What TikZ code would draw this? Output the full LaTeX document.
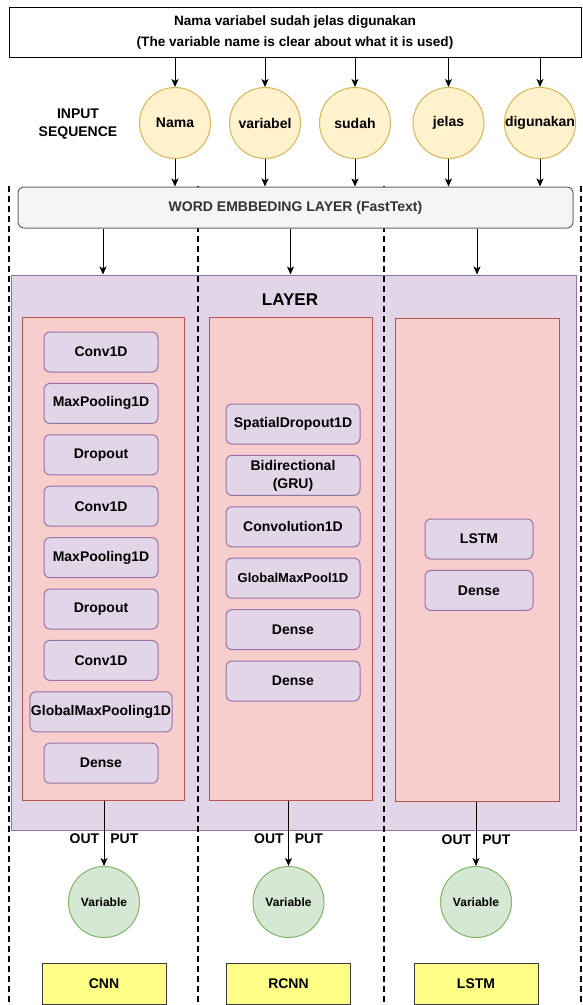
\documentclass[tikz,border=0pt]{standalone}
\usepackage{fontspec}
\setmainfont{Liberation Sans}
\usetikzlibrary{arrows.meta}

\definecolor{ylwfill}{HTML}{FFF2CC}
\definecolor{ylwline}{HTML}{D6B656}
\definecolor{grayfill}{HTML}{F5F5F5}
\definecolor{grayline}{HTML}{666666}
\definecolor{graytext}{HTML}{333333}
\definecolor{purpfill}{HTML}{E1D5E7}
\definecolor{purpline}{HTML}{9673A6}
\definecolor{redfill}{HTML}{F8CECC}
\definecolor{redline}{HTML}{B85450}
\definecolor{grnfill}{HTML}{D5E8D4}
\definecolor{grnline}{HTML}{82B366}
\definecolor{notefill}{HTML}{FFFF88}
\definecolor{noteline}{HTML}{36393D}

\def\txt{\fontsize{14}{18}\selectfont\bfseries}

\tikzset{
  arr/.style={-{Stealth[length=8pt,width=7pt,inset=2pt]}, line width=1pt},
  sentence/.style={draw, line width=1pt, minimum width=572pt, minimum height=50pt,
    align=center, font=\fontsize{13.6}{21}\selectfont\bfseries},
  word/.style={circle, draw=ylwline, fill=ylwfill, line width=1pt, minimum size=71pt,
    inner sep=0pt, font=\txt},
  embed/.style={draw=grayline, fill=grayfill, text=graytext, line width=1pt,
    rounded corners=6pt, minimum width=555pt, minimum height=41pt, font=\txt},
  layerbox/.style={draw=purpline, fill=purpfill, line width=1pt},
  redbox/.style={draw=redline, fill=redfill, line width=1pt, minimum height=483pt},
  block/.style={draw=purpline, fill=purpfill, line width=1pt, rounded corners=6pt,
    minimum height=40pt, inner xsep=1pt, align=center, font=\txt},
  outvar/.style={circle, draw=grnline, fill=grnfill, line width=1pt, minimum size=71pt,
    inner sep=0pt, font=\fontsize{12}{14}\selectfont\bfseries},
  model/.style={draw=noteline, fill=notefill, line width=1pt, minimum width=124pt,
    minimum height=41pt, font=\txt},
  sep/.style={dash pattern=on 6pt off 4pt, line width=2pt}
}

\begin{document}
\begin{tikzpicture}[x=1pt, y=-1pt]
\useasboundingbox (0,0) rectangle (582,1005);

% sentence and the input words
\node[sentence] (sentence) at (295,32) {Nama variabel sudah jelas digunakan\\(The variable name is clear about what it is used)};
\foreach \w/\x [count=\i] in {Nama/175, variabel/265, sudah/355, jelas/448.5, digunakan/540}
{
  \node[word] (w\i) at (\x,123) {\w};
  \draw[arr] (sentence.south -| w\i) -- (w\i.north);
}
\node[align=center, font=\txt] (inseq) at (78,124) {INPUT\\SEQUENCE};

% layer area
\node[layerbox, minimum width=565pt, minimum height=555pt] (layer) at (293.5,552.5) {};
\node[font=\fontsize{17}{20}\selectfont\bfseries] (layername) at (290,300) {LAYER};
\node[redbox, minimum width=162pt] (cnn) at (103,558.5) {};
\node[redbox, minimum width=163pt] (rcnn) at (290.5,558.5) {};
\node[redbox, minimum width=164pt] (lstm) at (477,559.5) {};

\foreach \l [count=\i from 0] in {Conv1D, MaxPooling1D, Dropout, Conv1D, MaxPooling1D, Dropout, Conv1D, GlobalMaxPooling1D, Dense}
  \node[block, minimum width=114pt] (cnn\i) at (101,{352+51.4*\i}) {\l};

\foreach \l [count=\i from 0] in {SpatialDropout1D, {Bidirectional\\(GRU)}, Convolution1D, {\fontsize{13}{16}\selectfont GlobalMaxPool1D}, Dense, Dense}
  \node[block, minimum width=134pt] (rcnn\i) at (293,{424+51.4*\i}) {\l};

\foreach \l [count=\i from 0] in {LSTM, Dense}
  \node[block, minimum width=108pt] (lstm\i) at (479,{539+51.4*\i}) {\l};

% separators
\foreach \x in {9,198,384,581}
  \draw[sep] (\x,186) -- (\x,1005);

% embedding layer
\node[embed] (emb) at (295.5,207.5) {WORD EMBBEDING LAYER (FastText)};
\foreach \i in {1,...,5}
  \draw[arr] (w\i.south) -- (w\i |- emb.north);
\foreach \b in {cnn, rcnn, lstm}
  \draw[arr] (emb.south -| \b) -- (layer.north -| \b);

% outputs and model names
\foreach \b/\x/\m [count=\i] in {cnn/104/CNN, rcnn/288.5/RCNN, lstm/476/LSTM}
{
  \node[outvar] (var\i) at (\x,902) {Variable};
  \draw[arr] (var\i |- \b.south) -- node[pos=0.59, font=\txt] {OUT\hspace{0.8em}PUT} (var\i.north);
  \node[model] (m\i) at (\x,983.5) {\m};
}
\end{tikzpicture}
\end{document}
